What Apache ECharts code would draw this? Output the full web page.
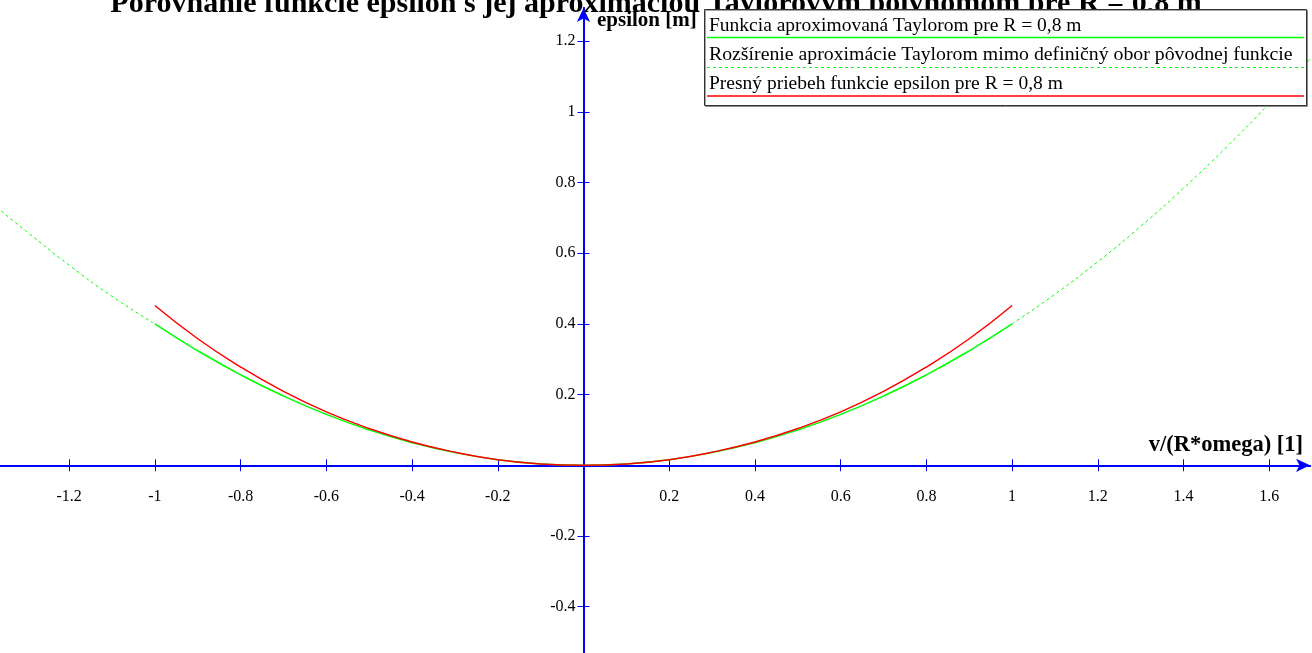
<!DOCTYPE html>
<html>
<head>
<meta charset="utf-8">
<script src="https://cdn.jsdelivr.net/npm/echarts@6/dist/echarts.min.js"></script>
<style>
	html, body { margin: 0; padding: 0; background: #fff; }
	#chart { width: 1312px; height: 653px; }
</style>
</head>
<body>
<div id="chart"></div>
<script>
// tick positions
var xTicks = [-1.2, -1, -0.8, -0.6, -0.4, -0.2, 0.2, 0.4, 0.6, 0.8, 1, 1.2, 1.4, 1.6];
var yTicks = [-0.4, -0.2, 0.2, 0.4, 0.6, 0.8, 1, 1.2];

// Taylor approximation inside [-1, 1]
var xInner = [-1, -0.9, -0.8, -0.7, -0.6, -0.5, -0.4, -0.3, -0.2, -0.1, 0, 0.1, 0.2, 0.3, 0.4, 0.5, 0.6, 0.7, 0.8, 0.9, 1];
var taylorEps = [0.400, 0.324, 0.256, 0.196, 0.144, 0.100, 0.064, 0.036, 0.016, 0.004, 0, 0.004, 0.016, 0.036, 0.064, 0.100, 0.144, 0.196, 0.256, 0.324, 0.400];

// Taylor extension outside the domain
var xExtLeft = [-1.38, -1.3, -1.2, -1.1, -1];
var extLeftEps = [0.740, 0.662, 0.566, 0.478, 0.400];
var xExtRight = [1, 1.1, 1.2, 1.3, 1.4, 1.5, 1.6, 1.7];
var extRightEps = [0.400, 0.484, 0.576, 0.676, 0.784, 0.900, 1.024, 1.156];

// exact epsilon
var exactEps = [0.452, 0.358, 0.278, 0.209, 0.151, 0.104, 0.066, 0.037, 0.016, 0.004, 0, 0.004, 0.016, 0.037, 0.066, 0.104, 0.151, 0.209, 0.278, 0.358, 0.452];

var legendNames = [
	'Funkcia aproximovaná Taylorom pre R = 0,8 m',
	'Rozšírenie aproximácie Taylorom mimo definičný obor pôvodnej funkcie',
	'Presný priebeh funkcie epsilon pre R = 0,8 m'
];

var pairs = function(xs, ys) {
	return xs.map(function(x, i) { return [x, ys[i]]; });
};

var serif = 'Liberation Serif';
var blue = '#0000ff';
var xMin = -1.3614, xMax = 1.695;
var yMin = -0.531, yMax = 1.2937;
var zeroY = 465.3, zeroX = 583.5;

var myChart = echarts.init(document.getElementById('chart'));
var option = {
	backgroundColor: '#fff',
	animation: false,
	title: {
		text: 'Porovnanie funkcie epsilon s jej aproximáciou Taylorovým polynómom pre R = 0,8 m',
		left: 'center',
		top: -16,
		textStyle: { fontFamily: serif, fontWeight: 'bold', fontSize: 30, color: '#000' }
	},
	// 0: plot, 1: x labels (bottom edge on y = 0), 2: y labels (left edge on x = 0)
	grid: [
		{ left: 0, right: 2, top: 8, bottom: 0, outerBoundsMode: 'none' },
		{ left: 0, right: 2, top: 8, bottom: 653 - zeroY, outerBoundsMode: 'none' },
		{ left: zeroX, right: 2, top: 8, bottom: 0, outerBoundsMode: 'none' }
	],
	xAxis: [
		{
			gridIndex: 0, type: 'value', min: xMin, max: xMax, position: 'bottom',
			splitLine: { show: false },
			axisLine: { onZero: true, symbol: ['none', 'arrow'], symbolSize: [10, 14], lineStyle: { color: blue, width: 2 } },
			axisTick: { customValues: xTicks, length: 6, lineStyle: { color: blue, width: 1 } },
			axisLabel: { show: false }
		},
		{
			gridIndex: 0, type: 'value', min: xMin, max: xMax, position: 'bottom',
			splitLine: { show: false },
			axisLine: { onZero: true, lineStyle: { color: blue, width: 2 } },
			axisTick: { customValues: xTicks, inside: true, length: 6, lineStyle: { color: blue, width: 1 } },
			axisLabel: { show: false }
		},
		{
			gridIndex: 1, type: 'value', min: xMin, max: xMax, position: 'bottom',
			splitLine: { show: false }, axisLine: { show: false }, axisTick: { show: false },
			axisLabel: { customValues: xTicks, margin: 23, color: '#000', fontFamily: serif, fontSize: 16 }
		},
		{
			gridIndex: 2, type: 'value', show: false
		}
	],
	yAxis: [
		{
			gridIndex: 0, type: 'value', min: yMin, max: yMax, position: 'left',
			splitLine: { show: false },
			axisLine: { onZero: true, symbol: ['none', 'arrow'], symbolSize: [10, 14], lineStyle: { color: blue, width: 2 } },
			axisTick: { customValues: yTicks, length: 6, lineStyle: { color: blue, width: 1 } },
			axisLabel: { show: false }
		},
		{
			gridIndex: 0, type: 'value', min: yMin, max: yMax, position: 'left',
			splitLine: { show: false },
			axisLine: { onZero: true, lineStyle: { color: blue, width: 2 } },
			axisTick: { customValues: yTicks, inside: true, length: 6, lineStyle: { color: blue, width: 1 } },
			axisLabel: { show: false }
		},
		{
			gridIndex: 1, type: 'value', show: false
		},
		{
			gridIndex: 2, type: 'value', min: yMin, max: yMax, position: 'left',
			splitLine: { show: false }, axisLine: { show: false }, axisTick: { show: false },
			axisLabel: { customValues: yTicks, margin: 8, color: '#000', fontFamily: serif, fontSize: 16 }
		}
	],
	series: [
		{
			name: legendNames[1], type: 'line', smooth: true, showSymbol: false,
			lineStyle: { color: '#00ff00', width: 1, type: [3, 3] },
			data: pairs(xExtLeft, extLeftEps)
		},
		{
			name: legendNames[1] + ' ', type: 'line', smooth: true, showSymbol: false,
			lineStyle: { color: '#00ff00', width: 1, type: [3, 3] },
			data: pairs(xExtRight, extRightEps)
		},
		{
			name: legendNames[0], type: 'line', smooth: true, showSymbol: false,
			lineStyle: { color: '#00ff00', width: 1.5 },
			data: pairs(xInner, taylorEps)
		},
		{
			name: legendNames[2], type: 'line', smooth: true, showSymbol: false,
			lineStyle: { color: '#ff0000', width: 1.5 },
			data: pairs(xInner, exactEps)
		}
	],
	graphic: [
		{ type: 'text', left: 597, top: 10, z: 100, style: { text: 'epsilon [m]', fontFamily: serif, fontWeight: 'bold', fontSize: 21, fill: '#000' } },
		{ type: 'text', right: 9, top: 434, z: 100, style: { text: 'v/(R*omega) [1]', fontFamily: serif, fontWeight: 'bold', fontSize: 22.5, fill: '#000' } },
		{ type: 'rect', shape: { x: 704.5, y: 9.5, width: 602, height: 96 }, z: 100, style: { fill: '#fff', stroke: '#333', lineWidth: 1, shadowColor: 'rgba(0,0,0,0.35)', shadowOffsetX: 1, shadowOffsetY: 1 } },
		{ type: 'text', x: 709, y: 26, z: 101, style: { text: legendNames[0], fontFamily: serif, fontSize: 19.5, fill: '#000', verticalAlign: 'middle' } },
		{ type: 'line', shape: { x1: 707, y1: 37.5, x2: 1304, y2: 37.5 }, z: 101, style: { stroke: '#00ff00', lineWidth: 1.5 } },
		{ type: 'text', x: 709, y: 55, z: 101, style: { text: legendNames[1], fontFamily: serif, fontSize: 19.8, fill: '#000', verticalAlign: 'middle' } },
		{ type: 'line', shape: { x1: 707, y1: 67.5, x2: 1304, y2: 67.5 }, z: 101, style: { stroke: '#00ff00', lineWidth: 1, lineDash: [3, 3] } },
		{ type: 'text', x: 709, y: 84, z: 101, style: { text: legendNames[2], fontFamily: serif, fontSize: 19.5, fill: '#000', verticalAlign: 'middle' } },
		{ type: 'line', shape: { x1: 707, y1: 96, x2: 1304, y2: 96 }, z: 101, style: { stroke: '#ff0000', lineWidth: 1.5 } }
	]
};
myChart.setOption(option);
</script>
</body>
</html>
